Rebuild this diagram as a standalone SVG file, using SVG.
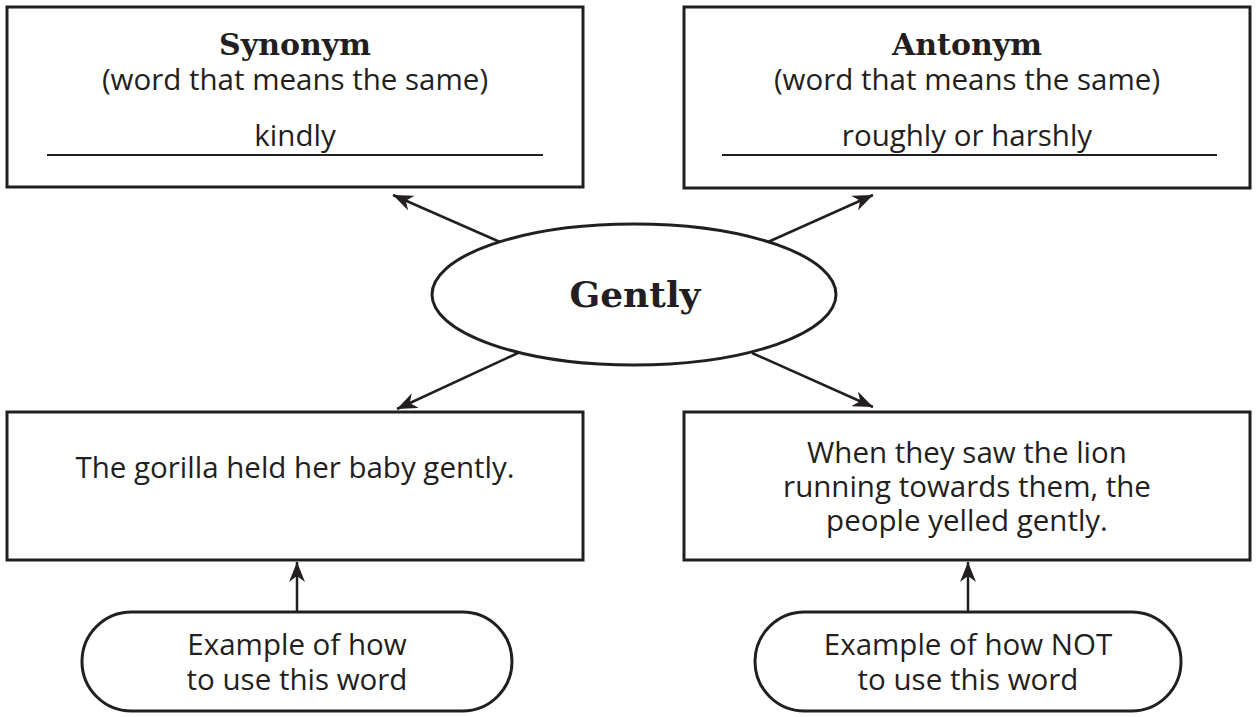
<svg xmlns="http://www.w3.org/2000/svg" width="1256" height="717" viewBox="0 0 1256 717">
<defs>
<style>
.box{fill:#fff;stroke:#231f20;stroke-width:3}
.rule{stroke:#231f20;stroke-width:2}
.t{font-family:"Open Sans","Liberation Sans",sans-serif;font-size:29.5px;fill:#231f20;text-anchor:middle}
.h{font-family:"DejaVu Serif","Liberation Serif",serif;font-weight:bold;font-size:30px;fill:#231f20;text-anchor:middle}
.g{font-family:"DejaVu Serif","Liberation Serif",serif;font-weight:bold;font-size:36px;fill:#231f20;text-anchor:middle}
.c{stroke:#231f20;stroke-width:2.5;fill:none;marker-end:url(#ah)}
</style>
<marker id="ah" markerUnits="userSpaceOnUse" markerWidth="22" markerHeight="16" refX="20" refY="8" orient="auto">
<path d="M0,0 L20,8 L0,16 L6,8 Z" fill="#231f20"/>
</marker>
</defs>
<rect width="1256" height="717" fill="#fff"/>
<g id="synonym">
<rect class="box" x="7" y="7" width="576" height="180"/>
<text class="h" x="295" y="55">Synonym</text>
<text class="t" x="295" y="90">(word that means the same)</text>
<text class="t" x="295" y="146">kindly</text>
<line class="rule" x1="47" y1="155" x2="543" y2="155"/>
</g>
<g id="antonym">
<rect class="box" x="684" y="7" width="566" height="181"/>
<text class="h" x="967" y="55">Antonym</text>
<text class="t" x="967" y="90">(word that means the same)</text>
<text class="t" x="967" y="146">roughly or harshly</text>
<line class="rule" x1="722" y1="155" x2="1217" y2="155"/>
</g>
<g id="gently">
<ellipse class="box" cx="634" cy="294.5" rx="202" ry="70.5" stroke-width="2.5"/>
<text class="g" x="635" y="307">Gently</text>
</g>
<g id="example">
<rect class="box" x="7" y="412" width="576" height="148"/>
<text class="t" x="295" y="478">The gorilla held her baby gently.</text>
</g>
<g id="nonexample">
<rect class="box" x="684" y="412" width="566" height="148"/>
<text class="t" x="967" y="463">When they saw the lion</text>
<text class="t" x="967" y="497">running towards them, the</text>
<text class="t" x="967" y="531">people yelled gently.</text>
</g>
<g id="pill-how">
<rect class="box" x="82" y="612" width="430" height="99" rx="49.5" stroke-width="2.5"/>
<text class="t" x="297" y="655">Example of how</text>
<text class="t" x="297" y="690">to use this word</text>
</g>
<g id="pill-not">
<rect class="box" x="755" y="612" width="426" height="99" rx="49.5" stroke-width="2.5"/>
<text class="t" x="968" y="655">Example of how NOT</text>
<text class="t" x="968" y="690">to use this word</text>
</g>
<g id="connectors">
<line class="c" x1="500" y1="242" x2="393" y2="195"/>
<line class="c" x1="768" y1="242" x2="873" y2="195"/>
<line class="c" x1="518" y1="353" x2="397" y2="409"/>
<line class="c" x1="752" y1="353" x2="873" y2="407"/>
<line class="c" x1="297" y1="612" x2="297" y2="562"/>
<line class="c" x1="968" y1="612" x2="968" y2="562"/>
</g>
</svg>
